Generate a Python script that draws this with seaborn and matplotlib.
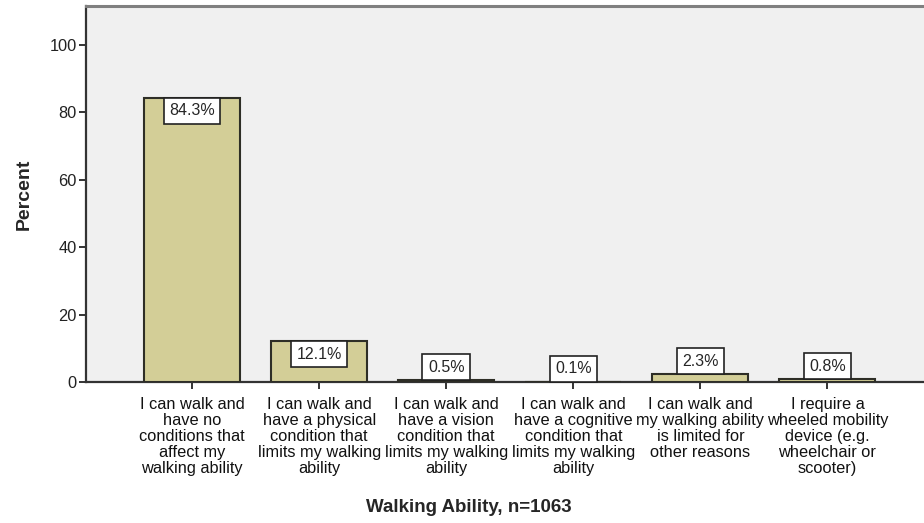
import matplotlib
matplotlib.use("Agg")
import matplotlib.pyplot as plt
import seaborn as sns
import pandas as pd

categories = [
    "I can walk and\nhave no\nconditions that\naffect my\nwalking ability",
    "I can walk and\nhave a physical\ncondition that\nlimits my walking\nability",
    "I can walk and\nhave a vision\ncondition that\nlimits my walking\nability",
    "I can walk and\nhave a cognitive\ncondition that\nlimits my walking\nability",
    "I can walk and\nmy walking ability\nis limited for\nother reasons",
    "I require a\nwheeled mobility\ndevice (e.g.\nwheelchair or\nscooter)",
]
percent = [84.3, 12.1, 0.5, 0.1, 2.3, 0.8]
yticks = [0, 20, 40, 60, 80, 100]

sns.set_style("white")
plt.rcParams["font.family"] = ["Liberation Sans", "DejaVu Sans"]

df = pd.DataFrame({"ability": categories, "percent": percent})

fig = plt.figure(figsize=(9.24, 5.23), dpi=100)
ax = fig.add_axes([86 / 924, 1 - 382 / 523, 1 - 86 / 924, (382 - 6) / 523])
ax.set_facecolor("#f0f0f0")

sns.barplot(data=df, x="ability", y="percent", color="#d3ce97",
            edgecolor="#2e2e26", linewidth=1.5, width=0.756,
            saturation=1, ax=ax, zorder=3)

ax.set_xlim(-0.835, 5.76)
ax.set_ylim(0, 111.6)
ax.set_yticks(yticks)
ax.set_yticklabels([str(t) for t in yticks], fontsize=11.8, color="#222222")
ax.set_xticks(range(len(categories)))
ax.set_xticklabels(categories, fontsize=11.8, linespacing=1.08, color="#111111")
ax.tick_params(axis="both", direction="out", length=5, width=1.4,
               color="#333333", left=True, bottom=True)
ax.tick_params(axis="x", pad=6)
ax.tick_params(axis="y", pad=1.5)

for side in ["left", "bottom"]:
    ax.spines[side].set_visible(True)
    ax.spines[side].set_color("#333333")
    ax.spines[side].set_linewidth(1.6)
ax.spines["top"].set_color("#808080")
ax.spines["top"].set_linewidth(2.2)
ax.spines["right"].set_visible(False)
ax.spines["bottom"].set_zorder(2.5)

ax.set_xlabel("")
ax.set_ylabel("Percent", fontsize=14, fontweight="bold", labelpad=12)
fig.text(469 / 924, 1 - 508 / 523, "Walking Ability, n=1063",
         ha="center", va="center", fontsize=13.5, fontweight="bold")

label_fs = 11.5
pad = 0.34
box = dict(boxstyle=f"square,pad={pad}", facecolor="white",
           edgecolor="#222222", linewidth=1.2)
off = pad * label_fs
for i, v in enumerate(percent):
    if v > 9:
        ax.annotate(f"{v}%", xy=(i, v), xytext=(0, -off), textcoords="offset points",
                    ha="center", va="top", fontsize=label_fs, bbox=box, zorder=5)
    else:
        ax.annotate(f"{v}%", xy=(i, v), xytext=(0, off), textcoords="offset points",
                    ha="center", va="bottom", fontsize=label_fs, bbox=box, zorder=5)

fig.savefig("out.png", dpi=100, facecolor="white")
